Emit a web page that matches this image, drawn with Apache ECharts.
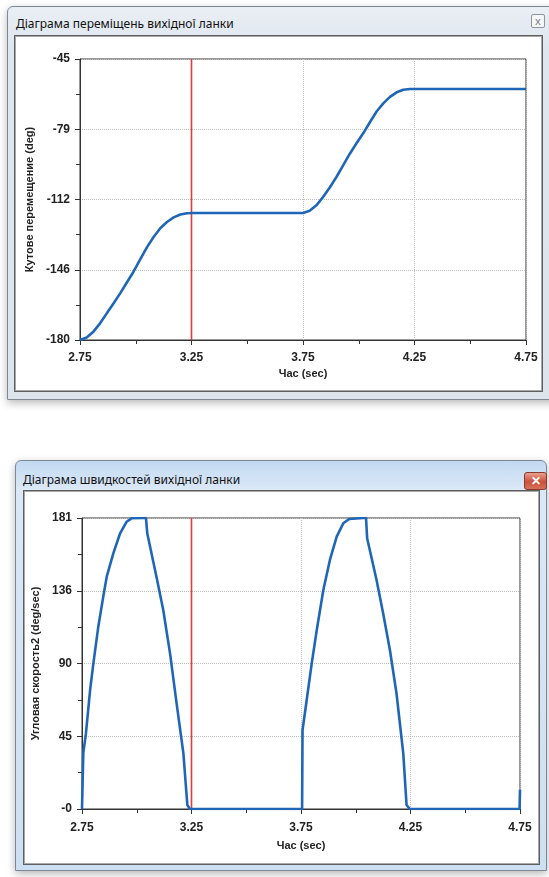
<!DOCTYPE html>
<html>
<head>
<meta charset="utf-8">
<script src="https://cdn.jsdelivr.net/npm/echarts@6/dist/echarts.min.js"></script>
<style>
body{margin:0;width:549px;height:877px;background:#fff;overflow:hidden;position:relative;font-family:"Noto Sans","Open Sans",sans-serif;}
.win{position:absolute;box-sizing:border-box;border:1px solid #7f8892;border-radius:6px 6px 0 0;box-shadow:0 3px 8px rgba(0,0,0,0.28);}
#w1{left:7px;top:6px;width:560px;height:394px;background:linear-gradient(#eaeff5,#dfe6ee 40px,#dde4ec);}
#w2{left:15px;top:460px;width:532px;height:411px;background:linear-gradient(#c3d9f1,#dae8f7 28px,#cddff2);}
.title{position:absolute;font-size:12px;line-height:16px;color:#111;white-space:nowrap;}
.panel{position:absolute;box-sizing:border-box;background:#fff;border:1px solid #5e5e5e;box-shadow:inset 0 0 0 1px #a8a8a8;}
.cls1{position:absolute;left:523px;top:7px;width:14px;height:14px;box-sizing:border-box;border:1px solid #8d949c;border-radius:2px;background:#f4f6f8;color:#7a7f86;font-size:11px;line-height:11px;text-align:center;}
.cls2{position:absolute;left:508px;top:11px;width:23px;height:18px;box-sizing:border-box;border:1px solid #8a3a2c;border-radius:3px;background:linear-gradient(#e7a08f,#c9523a 55%,#d6705a);color:#fff;font-size:12px;font-weight:bold;line-height:16px;text-align:center;}
#chart{position:absolute;left:0;top:0;width:549px;height:877px;z-index:5;}
</style>
</head>
<body>
<div class="win" id="w1">
  <div class="title" style="left:8px;top:9px;">Діаграма переміщень вихідної ланки</div>
  <div class="cls1">x</div>
  <div class="panel" style="left:6px;top:28px;width:529px;height:357px;"></div>
</div>
<div class="win" id="w2">
  <div class="title" style="left:7px;top:11px;">Діаграма швидкостей вихідної ланки</div>
  <div class="cls2">✕</div>
  <div class="panel" style="left:7px;top:29px;width:517px;height:375px;"></div>
</div>
<div id="chart"></div>
<script>
// time axis labels
var timeLabels = ['2.75', '3.25', '3.75', '4.25', '4.75'];
var cursorTime = 3.25;

// displacement of output link (deg)
var posTime = [2.75, 2.78, 2.81, 2.84, 2.87, 2.90, 2.93, 2.96, 2.99, 3.02, 3.05, 3.08, 3.11, 3.14, 3.17, 3.20, 3.23, 3.26,
    3.75, 3.78, 3.81, 3.84, 3.87, 3.90, 3.93, 3.96, 3.99, 4.02, 4.05, 4.08, 4.11, 4.14, 4.17, 4.20, 4.23, 4.75];
var posValues = [-180, -178.8, -176, -172, -167.2, -162.5, -157.6, -152.4, -147.2, -141.3, -135.5, -130.5, -126.3, -123.3, -121.1, -119.7, -119.1, -119,
    -119, -117.9, -115.3, -111.3, -106.7, -101.7, -96.1, -90.5, -85.5, -80.7, -75.4, -70.2, -66.3, -63.2, -61.0, -59.8, -59.4, -59.4];
var posRange = [-180, -45];
var posTickLabels = ['-180', '-146', '-112', '-79', '-45'];

// angular velocity of output link (deg/sec)
var velTime = [2.75, 2.756, 2.768, 2.787, 2.802, 2.824, 2.847, 2.863, 2.893, 2.924, 2.954, 2.976, 3.03, 3.042, 3.048, 3.09, 3.121, 3.152, 3.182, 3.213, 3.231, 3.243,
    3.755, 3.757, 3.776, 3.799, 3.822, 3.852, 3.882, 3.913, 3.943, 3.97, 4.034, 4.047, 4.052, 4.095, 4.125, 4.156, 4.186, 4.217, 4.232, 4.247,
    4.748, 4.75];
var velValues = [0, 35, 47, 74, 90.6, 113, 132, 144.5, 159, 171.5, 178.7, 180.8, 181, 181, 171.5, 144.5, 123.8, 96.8, 65.7, 34.6, 2.5, 0,
    0, 49, 67.8, 90.6, 111.3, 136.2, 154.9, 169.4, 177.7, 180.4, 181, 181, 168.4, 142.4, 121.7, 98.9, 72, 34.6, 2.5, 0,
    0, 12];
var velRange = [0, 181];
var velTickLabels = ['-0', '45', '90', '136', '181'];

var FONT = '"Liberation Sans", Arial, sans-serif';
var LINE = '#1f66b6';
var CURSOR = '#e23b3b';

function pairs(xs, ys){
    var out = [];
    for (var i = 0; i < xs.length; i++){
        out.push([xs[i], ys[i]]);
    }
    return out;
}

function xAxisFor(idx, gap, margin){
    return {
        type: 'value', gridIndex: idx, min: 2.75, max: 4.75, interval: 0.5,
        name: 'Час (sec)', nameLocation: 'middle', nameGap: gap,
        nameTextStyle: {fontFamily: FONT, fontWeight: 'bold', fontSize: 11, color: '#222'},
        axisLine: {show: true, lineStyle: {color: '#333'}},
        axisTick: {show: true, length: 5, lineStyle: {color: '#333'}},
        minorTick: {show: true, splitNumber: 2, length: 4, lineStyle: {color: '#333'}},
        axisLabel: {margin: margin, fontFamily: FONT, fontWeight: 'bold', fontSize: 12, color: '#222',
            showMinLabel: true, showMaxLabel: true,
            formatter: function(v){
                var i = Math.round((v - 2.75) / 0.5);
                return timeLabels[i];
            }},
        splitLine: {show: true, lineStyle: {type: 'dotted', color: '#bdbdbd'}}
    };
}

function yAxisFor(idx, range, labels, name, gap){
    var min = range[0], max = range[1];
    var step = (max - min) / (labels.length - 1);
    return {
        type: 'value', gridIndex: idx, min: min, max: max, interval: step,
        name: name, nameLocation: 'middle', nameGap: gap, nameRotate: 90,
        nameTextStyle: {fontFamily: FONT, fontWeight: 'bold', fontSize: 11, color: '#222'},
        axisLine: {show: true, lineStyle: {color: '#333'}},
        axisTick: {show: true, length: 5, lineStyle: {color: '#333'}},
        minorTick: {show: true, splitNumber: 2, length: 4, lineStyle: {color: '#333'}},
        axisLabel: {margin: 10, fontFamily: FONT, fontWeight: 'bold', fontSize: 12, color: '#222',
            showMinLabel: true, showMaxLabel: true,
            formatter: function(v){
                return labels[Math.round((v - min) / step)];
            }},
        splitLine: {show: true, lineStyle: {type: 'dotted', color: '#bdbdbd'}}
    };
}

// vertical red cursor, drawn as a two-point line through the axis range
function cursorSeries(idx, range){
    return {
        type: 'line', xAxisIndex: idx, yAxisIndex: idx, showSymbol: false, silent: true, z: 1,
        lineStyle: {color: CURSOR, width: 1.6}, itemStyle: {color: CURSOR},
        data: [[cursorTime, range[0]], [cursorTime, range[1]]]
    };
}

function curveSeries(idx, xs, ys){
    return {
        type: 'line', xAxisIndex: idx, yAxisIndex: idx, showSymbol: false, z: 3,
        lineStyle: {color: LINE, width: 2.6}, itemStyle: {color: LINE},
        data: pairs(xs, ys)
    };
}

var chart = echarts.init(document.getElementById('chart'));
var option = {
    animation: false,
    backgroundColor: 'transparent',
    grid: [
        {left: 80, top: 59, width: 446, height: 281, show: true, borderColor: '#333', borderWidth: 1},
        {left: 82, top: 518, width: 438, height: 291, show: true, borderColor: '#333', borderWidth: 1}
    ],
    xAxis: [xAxisFor(0, 28, 12), xAxisFor(1, 31, 13)],
    yAxis: [
        yAxisFor(0, posRange, posTickLabels, 'Кутове перемещение (deg)', 44),
        yAxisFor(1, velRange, velTickLabels, 'Угловая скорость2 (deg/sec)', 40)
    ],
    series: [
        cursorSeries(0, posRange),
        curveSeries(0, posTime, posValues),
        cursorSeries(1, velRange),
        curveSeries(1, velTime, velValues)
    ]
};
chart.setOption(option);
</script>
</body>
</html>
